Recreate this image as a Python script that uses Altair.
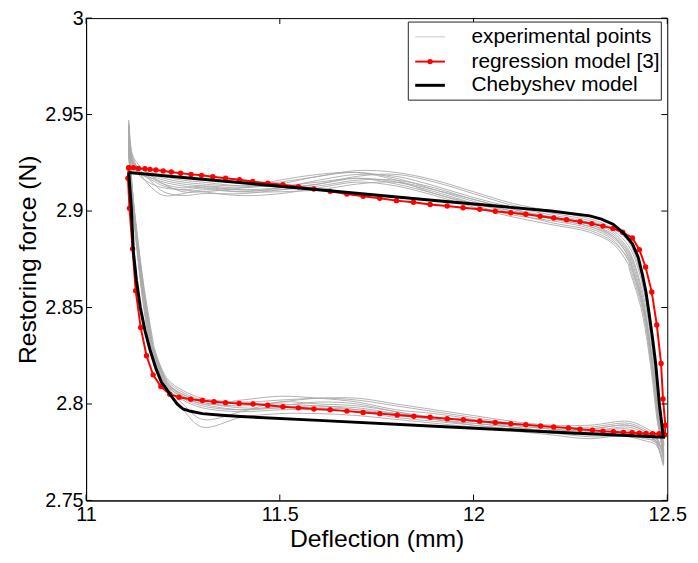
import altair as alt
import pandas as pd

# ---------------- axes ----------------
X_DOMAIN = [11, 12.5]
Y_DOMAIN = [2.75, 3]
X_TICKS = [11, 11.5, 12, 12.5]
Y_TICKS = [2.75, 2.8, 2.85, 2.9, 2.95, 3]

# ---------------- experimental points (grey cycles) ----------------
EXP_LEFT_Y = [2.83, 2.86, 2.89, 2.91]
EXP_LEFT_X = [
    [11.168, 11.145, 11.128, 11.118],
    [11.172, 11.148, 11.130, 11.120],
    [11.163, 11.142, 11.126, 11.117],
    [11.170, 11.147, 11.129, 11.119],
    [11.175, 11.150, 11.131, 11.120],
    [11.165, 11.143, 11.127, 11.117],
    [11.173, 11.149, 11.130, 11.120],
    [11.166, 11.144, 11.127, 11.118],
    [11.169, 11.146, 11.128, 11.118],
    [11.171, 11.147, 11.129, 11.119],
]
EXP_UPPER_X = [11.11, 11.12, 11.14, 11.17, 11.2, 11.25, 11.3, 11.4, 11.5, 11.6,
               11.7, 11.8, 11.9, 12.0, 12.1, 12.2, 12.3, 12.36, 12.4]
EXP_UPPER_Y = [
    [2.947, 2.928, 2.921, 2.917, 2.914, 2.912, 2.913, 2.912, 2.914, 2.918, 2.920, 2.917, 2.911, 2.905, 2.900, 2.896, 2.892, 2.887, 2.878],
    [2.940, 2.925, 2.919, 2.912, 2.908, 2.909, 2.911, 2.910, 2.912, 2.916, 2.919, 2.918, 2.913, 2.907, 2.902, 2.898, 2.894, 2.889, 2.880],
    [2.935, 2.926, 2.922, 2.920, 2.918, 2.916, 2.915, 2.913, 2.913, 2.915, 2.917, 2.914, 2.909, 2.903, 2.898, 2.895, 2.891, 2.885, 2.874],
    [2.930, 2.923, 2.920, 2.918, 2.916, 2.914, 2.913, 2.911, 2.911, 2.913, 2.916, 2.916, 2.912, 2.906, 2.901, 2.897, 2.893, 2.888, 2.879],
    [2.944, 2.927, 2.921, 2.915, 2.910, 2.908, 2.909, 2.909, 2.911, 2.914, 2.918, 2.919, 2.915, 2.909, 2.903, 2.899, 2.895, 2.890, 2.882],
    [2.938, 2.924, 2.918, 2.914, 2.912, 2.911, 2.910, 2.908, 2.909, 2.912, 2.915, 2.913, 2.908, 2.902, 2.897, 2.893, 2.889, 2.883, 2.872],
    [2.932, 2.925, 2.922, 2.919, 2.917, 2.915, 2.914, 2.913, 2.915, 2.918, 2.921, 2.920, 2.916, 2.910, 2.904, 2.900, 2.896, 2.891, 2.884],
    [2.942, 2.926, 2.920, 2.916, 2.913, 2.911, 2.912, 2.911, 2.912, 2.914, 2.917, 2.915, 2.910, 2.904, 2.899, 2.894, 2.890, 2.884, 2.875],
    [2.936, 2.924, 2.919, 2.917, 2.915, 2.913, 2.912, 2.910, 2.910, 2.911, 2.914, 2.915, 2.911, 2.906, 2.901, 2.896, 2.892, 2.886, 2.877],
    [2.945, 2.929, 2.923, 2.918, 2.914, 2.910, 2.910, 2.912, 2.916, 2.919, 2.920, 2.916, 2.909, 2.904, 2.900, 2.897, 2.893, 2.887, 2.876],
]
EXP_RIGHT_Y = [2.87, 2.85, 2.83, 2.81, 2.79]
EXP_RIGHT_X = [
    [12.415, 12.440, 12.455, 12.467, 12.478],
    [12.420, 12.445, 12.460, 12.470, 12.480],
    [12.405, 12.435, 12.452, 12.465, 12.476],
    [12.418, 12.442, 12.457, 12.469, 12.479],
    [12.425, 12.448, 12.462, 12.472, 12.481],
    [12.402, 12.432, 12.450, 12.463, 12.475],
    [12.428, 12.450, 12.464, 12.474, 12.483],
    [12.408, 12.437, 12.453, 12.466, 12.477],
    [12.412, 12.440, 12.456, 12.468, 12.479],
    [12.410, 12.438, 12.455, 12.467, 12.478],
]
EXP_LOWER_X = [12.49, 12.47, 12.44, 12.4, 12.3, 12.2, 12.1, 12.0, 11.9, 11.8,
               11.7, 11.6, 11.5, 11.4, 11.3, 11.25, 11.21]
EXP_LOWER_Y = [
    [2.768, 2.781, 2.785, 2.788, 2.786, 2.787, 2.789, 2.791, 2.793, 2.796, 2.800, 2.801, 2.799, 2.797, 2.799, 2.803, 2.810],
    [2.775, 2.783, 2.787, 2.790, 2.788, 2.788, 2.790, 2.793, 2.796, 2.799, 2.802, 2.803, 2.801, 2.799, 2.801, 2.805, 2.811],
    [2.772, 2.779, 2.781, 2.783, 2.783, 2.785, 2.787, 2.789, 2.791, 2.793, 2.796, 2.797, 2.797, 2.796, 2.798, 2.802, 2.808],
    [2.779, 2.782, 2.784, 2.786, 2.785, 2.786, 2.788, 2.790, 2.792, 2.795, 2.798, 2.799, 2.800, 2.800, 2.802, 2.806, 2.812],
    [2.770, 2.780, 2.786, 2.789, 2.787, 2.786, 2.788, 2.792, 2.795, 2.797, 2.801, 2.803, 2.804, 2.802, 2.800, 2.804, 2.811],
    [2.776, 2.781, 2.782, 2.784, 2.782, 2.784, 2.786, 2.788, 2.790, 2.792, 2.794, 2.795, 2.795, 2.793, 2.788, 2.797, 2.807],
    [2.773, 2.784, 2.788, 2.791, 2.789, 2.789, 2.791, 2.794, 2.797, 2.800, 2.803, 2.803, 2.802, 2.801, 2.803, 2.807, 2.813],
    [2.778, 2.780, 2.783, 2.785, 2.784, 2.785, 2.787, 2.789, 2.792, 2.794, 2.797, 2.799, 2.798, 2.797, 2.800, 2.804, 2.809],
    [2.769, 2.781, 2.784, 2.787, 2.786, 2.787, 2.789, 2.791, 2.793, 2.795, 2.797, 2.798, 2.798, 2.798, 2.801, 2.805, 2.810],
    [2.774, 2.782, 2.786, 2.789, 2.787, 2.786, 2.788, 2.790, 2.792, 2.796, 2.799, 2.800, 2.801, 2.796, 2.792, 2.800, 2.809],
]

# ---------------- regression model [3] (red, with markers) ----------------
REG_X = [11.110, 11.122, 11.135, 11.152, 11.165, 11.180, 11.199, 11.220, 11.244, 11.271,
         11.298, 11.327, 11.360, 11.396, 11.430, 11.469, 11.508, 11.548, 11.588, 11.630,
         11.673, 11.715, 11.758, 11.801, 11.845, 11.888, 11.932, 11.973, 12.016, 12.056,
         12.096, 12.135, 12.172, 12.207, 12.240, 12.275, 12.305, 12.334, 12.360, 12.385,
         12.410, 12.428, 12.444, 12.460, 12.473, 12.484, 12.489, 12.495, 12.494,
         12.479, 12.462, 12.445, 12.428, 12.409, 12.387, 12.361, 12.334, 12.307, 12.275,
         12.245, 12.207, 12.173, 12.135, 12.096, 12.056, 12.016, 11.974, 11.932, 11.888,
         11.846, 11.803, 11.758, 11.715, 11.673, 11.630, 11.588, 11.548, 11.508, 11.469,
         11.431, 11.395, 11.360, 11.330, 11.300, 11.270, 11.240, 11.216, 11.193, 11.173,
         11.156, 11.141, 11.128, 11.120, 11.112, 11.108, 11.110]
REG_Y = [2.9224, 2.9224, 2.9221, 2.9219, 2.9216, 2.9213, 2.9208, 2.9202, 2.9196, 2.9190,
         2.9185, 2.9178, 2.9170, 2.9162, 2.9153, 2.9144, 2.9136, 2.9126, 2.9114, 2.9102,
         2.9088, 2.9077, 2.9066, 2.9054, 2.9046, 2.9034, 2.9026, 2.9017, 2.9009, 2.8999,
         2.8991, 2.8983, 2.8973, 2.8964, 2.8955, 2.8945, 2.8935, 2.8922, 2.8910, 2.8890,
         2.8860, 2.8800, 2.8710, 2.8580, 2.8410, 2.8210, 2.8026, 2.7890, 2.7840,
         2.7846, 2.7846, 2.7847, 2.7849, 2.7851, 2.7852, 2.7856, 2.7859, 2.7864, 2.7869,
         2.7876, 2.7881, 2.7886, 2.7892, 2.7898, 2.7904, 2.7911, 2.7918, 2.7924, 2.7931,
         2.7936, 2.7943, 2.7950, 2.7956, 2.7963, 2.7970, 2.7974, 2.7980, 2.7986, 2.7993,
         2.8000, 2.8003, 2.8007, 2.8012, 2.8018, 2.8025, 2.8035, 2.8051, 2.8090, 2.8151,
         2.8250, 2.8396, 2.8587, 2.8804, 2.9015, 2.9170, 2.9224]

# ---------------- Chebyshev model (black) ----------------
CHEB_X = [11.11, 11.3, 11.6, 11.9, 12.2, 12.3, 12.33, 12.36, 12.385, 12.40, 12.41, 12.425,
          12.436, 12.445, 12.453, 12.462, 12.47, 12.476, 12.48, 12.485, 12.49,
          12.2, 11.9, 11.6, 11.4, 11.35, 11.3, 11.27, 11.25, 11.235, 11.22, 11.205, 11.195,
          11.18, 11.165, 11.152, 11.14, 11.13, 11.122, 11.117, 11.11]
CHEB_Y = [2.920, 2.9165, 2.911, 2.9055, 2.900, 2.8975, 2.8958, 2.8932, 2.889, 2.8855, 2.883, 2.876,
          2.867, 2.858, 2.847, 2.834, 2.821, 2.808, 2.799, 2.791, 2.7828,
          2.7855, 2.7885, 2.7915, 2.7935, 2.7942, 2.795, 2.7962, 2.7975, 2.800, 2.804, 2.8085, 2.811,
          2.8185, 2.828, 2.838, 2.850, 2.864, 2.879, 2.901, 2.920]

LEGEND_LABELS = ["experimental points", "regression model [3]", "Chebyshev model"]

# ---------------- build tables ----------------
rows = []
for c in range(len(EXP_UPPER_Y)):
    pts = []
    pts += list(zip(EXP_LEFT_X[c], EXP_LEFT_Y))
    pts += list(zip(EXP_UPPER_X, EXP_UPPER_Y[c]))
    pts += list(zip(EXP_RIGHT_X[c], EXP_RIGHT_Y))
    pts += list(zip(EXP_LOWER_X, EXP_LOWER_Y[c]))
    pts.append((EXP_LEFT_X[c][0], EXP_LEFT_Y[0]))
    for i, (x, y) in enumerate(pts):
        rows.append({"curve": c, "idx": i, "x": x, "y": y})
exp_df = pd.DataFrame(rows)
reg_df = pd.DataFrame({"x": REG_X, "y": REG_Y, "idx": range(len(REG_X))})
cheb_df = pd.DataFrame({"x": CHEB_X, "y": CHEB_Y, "idx": range(len(CHEB_X))})
xt_df = pd.DataFrame({"x": X_TICKS})
yt_df = pd.DataFrame({"y": Y_TICKS})
one = pd.DataFrame({"a": [0]})

W, H = 588, 488
FONT = "Liberation Sans"

X_ENC = alt.X("x:Q", scale=alt.Scale(domain=X_DOMAIN, nice=False, zero=False),
              axis=alt.Axis(values=X_TICKS, format="~g", title="Deflection (mm)"))
Y_ENC = alt.Y("y:Q", scale=alt.Scale(domain=Y_DOMAIN, nice=False, zero=False),
              axis=alt.Axis(values=Y_TICKS, format="~g", title="Restoring force (N)"))

exp_layer = alt.Chart(exp_df).mark_line(
    color="#a9a9a9", strokeWidth=0.9, interpolate="catmull-rom"
).encode(x=X_ENC, y=Y_ENC, detail="curve:N", order="idx:Q")

reg_line = alt.Chart(reg_df).mark_line(color="#ff0000", strokeWidth=2).encode(
    x=X_ENC, y=Y_ENC, order="idx:Q")
reg_pts = alt.Chart(reg_df).mark_circle(color="#ff0000", size=30, opacity=1).encode(
    x=X_ENC, y=Y_ENC)

cheb_line = alt.Chart(cheb_df).mark_line(color="black", strokeWidth=3).encode(
    x=X_ENC, y=Y_ENC, order="idx:Q")

# inward ticks on all four sides
tick_len = 6
xt_bottom = alt.Chart(xt_df).mark_rule(color="black", strokeWidth=1).encode(
    x=X_ENC, y=alt.value(H), y2=alt.value(H - tick_len))
xt_top = alt.Chart(xt_df).mark_rule(color="black", strokeWidth=1).encode(
    x=X_ENC, y=alt.value(0), y2=alt.value(tick_len))
yt_left = alt.Chart(yt_df).mark_rule(color="black", strokeWidth=1).encode(
    y=Y_ENC, x=alt.value(0), x2=alt.value(tick_len))
yt_right = alt.Chart(yt_df).mark_rule(color="black", strokeWidth=1).encode(
    y=Y_ENC, x=alt.value(W), x2=alt.value(W - tick_len))

# legend box
LX0, LX1, LY0, LY1 = 326, 582, 4, 83
ROW_Y = [19, 44, 68]
leg_box = alt.Chart(one).mark_rect(fill="white", stroke="#222", strokeWidth=1).encode(
    x=alt.value(LX0), x2=alt.value(LX1), y=alt.value(LY0), y2=alt.value(LY1))
leg_exp = alt.Chart(one).mark_rule(color="#c8c8c8", strokeWidth=1).encode(
    x=alt.value(333), x2=alt.value(363), y=alt.value(ROW_Y[0]))
leg_reg = alt.Chart(one).mark_rule(color="#ff0000", strokeWidth=2).encode(
    x=alt.value(333), x2=alt.value(363), y=alt.value(ROW_Y[1]))
leg_reg_pt = alt.Chart(one).mark_circle(color="#ff0000", size=30, opacity=1).encode(
    x=alt.value(348), y=alt.value(ROW_Y[1]))
leg_cheb = alt.Chart(one).mark_rule(color="black", strokeWidth=3).encode(
    x=alt.value(333), x2=alt.value(363), y=alt.value(ROW_Y[2]))
leg_texts = [
    alt.Chart(pd.DataFrame({"t": [lab]})).mark_text(
        align="left", baseline="middle", fontSize=21, font=FONT, color="black"
    ).encode(x=alt.value(390), y=alt.value(yy), text="t:N")
    for lab, yy in zip(LEGEND_LABELS, ROW_Y)
]

chart = alt.layer(
    exp_layer, reg_line, reg_pts, cheb_line,
    xt_bottom, xt_top, yt_left, yt_right,
    leg_box, leg_exp, leg_reg, leg_reg_pt, leg_cheb, *leg_texts
).properties(
    width=W, height=H,
    autosize=alt.AutoSizeParams(type="none"),
    padding={"left": 79, "top": 7, "right": 23, "bottom": 55},
    background="white",
).configure_view(
    stroke="black", strokeWidth=1
).configure_axis(
    ticks=False, grid=False, domainColor="black", domainWidth=1,
    labelFont=FONT, labelFontSize=20, labelColor="black", labelFlush=False,
    titleFont=FONT, titleFontSize=25, titleFontWeight="normal", titleColor="black",
).configure_axisX(
    labelPadding=4, titlePadding=3
).configure_axisY(
    labelPadding=3, titlePadding=4
)

chart.save("out.html", embed_options={"renderer": "svg", "actions": False})
